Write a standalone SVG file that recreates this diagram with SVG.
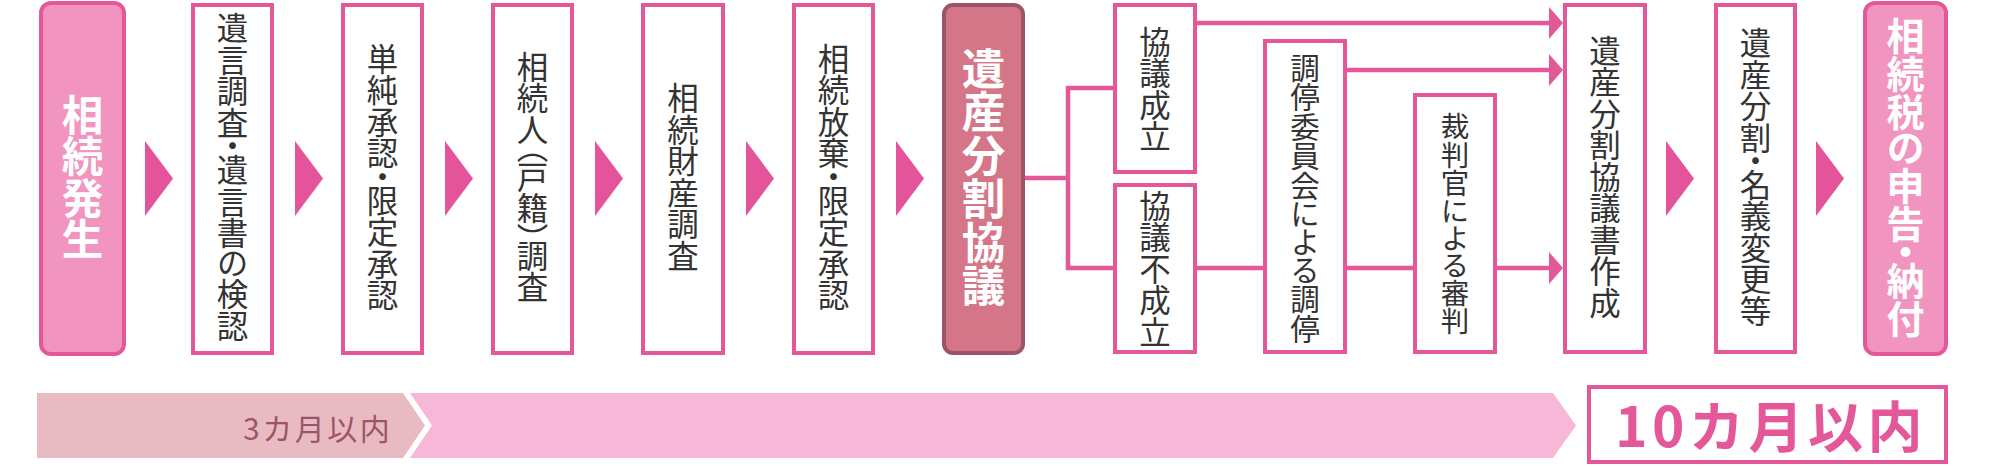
<svg xmlns="http://www.w3.org/2000/svg" width="2000" height="466" viewBox="0 0 2000 466">
<style>
  .box{fill:#ffffff;stroke:#E4589A;stroke-width:4}
  .start{fill:#F195C0;stroke:#E4589A;stroke-width:4}
  .mid{fill:#D47588;stroke:#9C5467;stroke-width:4}
  .tri{fill:#E4549A}
  .conn{fill:none;stroke:#E4589A;stroke-width:4.5}
  .vt{font-family:"Noto Sans CJK JP","Noto Sans CJK SC",sans-serif;font-size:31.5px;fill:#333333;writing-mode:vertical-rl;text-anchor:middle;font-feature-settings:"vpal" 1}
  .vb{font-family:"Noto Sans CJK JP","Noto Sans CJK SC",sans-serif;font-weight:bold;fill:#ffffff;writing-mode:vertical-rl;text-anchor:middle;font-feature-settings:"vpal" 1}
  .jp{font-family:"Noto Sans CJK JP","Noto Sans CJK SC",sans-serif}
</style>
<defs>
  <marker id="ah" viewBox="0 0 14 32" refX="6" refY="16" markerWidth="14" markerHeight="32" markerUnits="userSpaceOnUse" orient="auto">
    <path d="M0,0 L14,16 L0,32 Z" fill="#E4589A"/>
  </marker>
</defs>
<rect width="2000" height="466" fill="#ffffff"/>

<g id="n1">
  <rect class="start" x="41" y="3" width="83" height="351" rx="10"/>
  <text class="vb" x="82.5" y="177" style="font-size:41.5px">相続発生</text>
</g>
<g id="n2">
  <rect class="box" x="193" y="5" width="79" height="348"/>
  <text class="vt" x="232.5" y="177">遺言調査・遺言書の検認</text>
</g>
<g id="n3">
  <rect class="box" x="343" y="5" width="79" height="348"/>
  <text class="vt" x="382.5" y="177">単純承認・限定承認</text>
</g>
<g id="n4">
  <rect class="box" x="493" y="5" width="79" height="348"/>
  <text class="vt" x="532.5" y="177">相続人（戸籍）調査</text>
</g>
<g id="n5">
  <rect class="box" x="643" y="5" width="80" height="348"/>
  <text class="vt" x="683" y="177">相続財産調査</text>
</g>
<g id="n6">
  <rect class="box" x="794" y="5" width="79" height="348"/>
  <text class="vt" x="833.5" y="177">相続放棄・限定承認</text>
</g>
<g id="n7">
  <rect class="mid" x="944" y="5" width="79" height="348" rx="9"/>
  <text class="vb" x="983.5" y="177" style="font-size:43.5px">遺産分割協議</text>
</g>
<g id="n8">
  <rect class="box" x="1115" y="5" width="80" height="167"/>
  <text class="vt" x="1155" y="89">協議成立</text>
</g>
<g id="n9">
  <rect class="box" x="1115" y="185" width="80" height="167"/>
  <text class="vt" x="1155" y="269">協議不成立</text>
</g>
<g id="n10">
  <rect class="box" x="1265" y="41" width="80" height="311"/>
  <text class="vt" x="1305" y="198" style="font-size:29.5px">調停委員会による調停</text>
</g>
<g id="n11">
  <rect class="box" x="1415" y="95" width="80" height="257"/>
  <text class="vt" x="1455" y="224" style="font-size:28.5px">裁判官による審判</text>
</g>
<g id="n12">
  <rect class="box" x="1565" y="5" width="80" height="347"/>
  <text class="vt" x="1605" y="177">遺産分割協議書作成</text>
</g>
<g id="n13">
  <rect class="box" x="1716" y="5" width="79" height="347"/>
  <text class="vt" x="1755.5" y="177">遺産分割・名義変更等</text>
</g>
<g id="n14">
  <rect class="start" x="1865" y="3" width="81" height="351" rx="10"/>
  <text class="vb" x="1905.5" y="177" style="font-size:38px">相続税の申告・納付</text>
</g>

<g id="flow-arrows">
  <polygon class="tri" points="145,141 173,178.5 145,216"/>
  <polygon class="tri" points="295,141 323,178.5 295,216"/>
  <polygon class="tri" points="445,141 473,178.5 445,216"/>
  <polygon class="tri" points="595,141 623,178.5 595,216"/>
  <polygon class="tri" points="746,141 774,178.5 746,216"/>
  <polygon class="tri" points="896,141 924,178.5 896,216"/>
  <polygon class="tri" points="1666,141 1694,178.5 1666,216"/>
  <polygon class="tri" points="1816,141 1844,178.5 1816,216"/>
</g>

<g id="connectors">
  <path class="conn" d="M1025,178 H1068 M1068,86 V270 M1066,88 H1113 M1066,268 H1113"/>
  <path class="conn" d="M1197,23 H1555" marker-end="url(#ah)"/>
  <path class="conn" d="M1347,70 H1555" marker-end="url(#ah)"/>
  <path class="conn" d="M1197,268 H1263 M1347,268 H1413"/>
  <path class="conn" d="M1497,268 H1555" marker-end="url(#ah)"/>
</g>

<g id="timeline">
  <polygon points="410,393 1553,393 1576,425.5 1553,458 410,458 432,425.5" fill="#F6B8D6"/>
  <polygon points="37,393 403,393 425,425.5 403,458 37,458" fill="#E8BBC3"/>
  <text class="jp" x="243" y="440" style="font-size:30px;letter-spacing:2.5px" fill="#9C5468">3カ月以内</text>
  <rect x="1589" y="387" width="357" height="75" fill="#ffffff" stroke="#E4589A" stroke-width="4"/>
  <text class="jp" x="1615" y="447" style="font-size:55px;font-weight:bold;letter-spacing:4.5px" fill="#E4589A">10カ月以内</text>
</g>
</svg>
